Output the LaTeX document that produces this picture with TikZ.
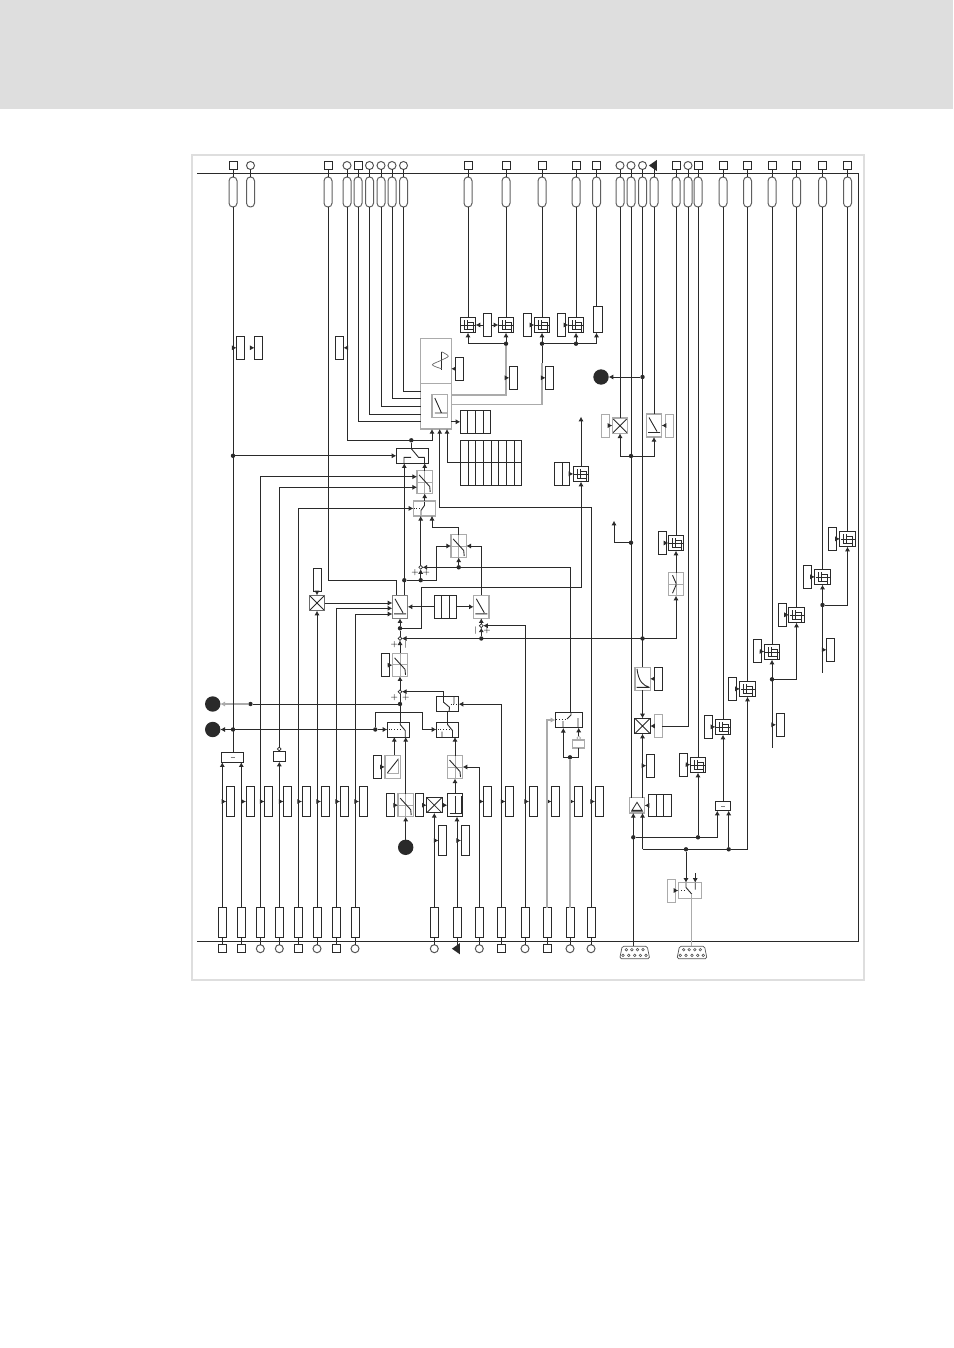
\documentclass[tikz,border=0pt]{standalone}
\usetikzlibrary{arrows.meta,shapes.geometric}

\definecolor{ink}{HTML}{2A2A2A}
\definecolor{boxgray}{HTML}{ABABAB}
\definecolor{framegray}{HTML}{DEDEDE}

\tikzset{
  sq/.style={draw,minimum size=4pt},
  cir/.style={draw=ink!80,circle,minimum size=4pt},
  trm/.style={fill=ink,isosceles triangle,isosceles triangle apex angle=70,shape border rotate=180,minimum height=4pt,minimum width=4pt},
  pill/.style={draw=ink!75,rounded corners=1.9pt,minimum width=4pt,minimum height=15pt},
  iorect/.style={draw,minimum width=4pt,minimum height=15pt},
  coderect/.style={draw,minimum width=4pt,minimum height=11.5pt},
  graycode/.style={coderect,draw=boxgray,line width=0.7pt},
  dot/.style={fill=ink,circle,minimum size=2.2pt},
  bigdot/.style={fill=ink,circle,minimum size=7.7pt},
  sumdot/.style={draw,fill=white,circle,minimum size=1.9pt,line width=0.35pt},
  sgn/.style={font=\fontsize{3.8}{4.5}\selectfont},
  graywire/.style={draw=boxgray,line width=0.7pt},
  funcbox/.style={draw,minimum size=7.7pt},
  tallbox/.style={draw=boxgray,line width=0.7pt,minimum width=7.7pt,minimum height=11.5pt},
  switchbox/.style={draw,minimum width=11.2pt,minimum height=7.5pt},
  fbk/.style={funcbox,path picture={
    \draw[draw=ink,line width=0.4pt,shift={(path picture bounding box.center)}]
      (-4,-5) -- (-4,4) -- (5,4) (-7,0) -- (7,0) (-1,-5) -- (-1,4) (-1,-3) -- (5,-3) -- (5,7);}},
  xbx/.style={funcbox,path picture={
    \draw[draw=ink,line width=0.4pt] (path picture bounding box.south west) -- (path picture bounding box.north east)
      (path picture bounding box.north west) -- (path picture bounding box.south east);}},
  scv/.style={tallbox,path picture={
    \draw[draw=boxgray,line width=0.4pt,shift={(path picture bounding box.center)}] (0,-12) -- (0,12) (-7,0) -- (7,0);
    \draw[draw=ink,line width=0.45pt,shift={(path picture bounding box.center)}] (-5.5,-7) -- (5,4.5) -- (5.5,10);}},
  rmp/.style={tallbox,path picture={
    \draw[draw=ink,line width=0.45pt,shift={(path picture bounding box.center)}] (-5,-8) -- (3,6) (-6,7) -- (6,7);}},
  rup/.style={tallbox,path picture={
    \draw[draw=ink,line width=0.45pt,shift={(path picture bounding box.center)}] (-5,6) -- (6,-8);
    \draw[draw=boxgray,line width=0.4pt,shift={(path picture bounding box.center)}] (6,-8) -- (6,7) -- (-5,7) -- (-5,6);}},
  lbx/.style={draw,minimum width=7.7pt,minimum height=11.5pt,path picture={
    \draw[draw=ink,line width=0.45pt,shift={(path picture bounding box.center)}] (0,-9) -- (0,8.3) (-5.5,8.3) -- (6.5,8.3) (6,8.3) -- (6,-9);}},
  crv/.style={tallbox,path picture={
    \draw[draw=ink,line width=0.45pt,shift={(path picture bounding box.center)}] (-5.5,-10) .. controls (-4,4) and (2,7) .. (6,8) (-6,8.5) -- (7,8.5);}},
  yyy/.style={tallbox,path picture={
    \draw[draw=boxgray,line width=0.4pt,shift={(path picture bounding box.center)}] (0,-12) -- (0,12) (-7,0) -- (7,0);
    \draw[draw=ink,line width=0.45pt,shift={(path picture bounding box.center)}] (-3.5,-9) -- (0,-1) -- (0,1) -- (-3.5,9);}},
  trb/.style={funcbox,draw=boxgray,line width=0.7pt,path picture={
    \draw[draw=ink,line width=0.4pt,shift={(path picture bounding box.center)}] (-5,5) -- (0,-3) -- (5,5) -- cycle (-6,6) -- (6,6);}},
  cols2/.style={draw,path picture={\draw[draw=ink,shift={(path picture bounding box.center)}] (0,-20) -- (0,20);}},
  cols3/.style={draw,path picture={\draw[draw=ink,shift={(path picture bounding box.center)}] (-3.8,-20) -- (-3.8,20) (3.8,-20) -- (3.8,20);}},
  cols4/.style={draw,path picture={\draw[draw=ink,shift={(path picture bounding box.center)}] (-7.6,-20) -- (-7.6,20) (0,-20) -- (0,20) (7.6,-20) -- (7.6,20);}},
  cols8/.style={draw,path picture={\draw[draw=ink,shift={(path picture bounding box.center)}]
    (-23,-30) -- (-23,30) (-15.4,-30) -- (-15.4,30) (-7.7,-30) -- (-7.7,30) (0,-30) -- (0,30)
    (7.7,-30) -- (7.7,30) (15.4,-30) -- (15.4,30) (23,-30) -- (23,30) (-35,0) -- (35,0);}},
  dsub/.style={minimum width=15.6pt,minimum height=6.9pt,path picture={
    \draw[draw=ink!80,line width=0.35pt,rounded corners=0.8pt,shift={(path picture bounding box.center)}]
      (-12.5,-6.5) -- (12.5,-6.5) -- (15,6) -- (-15,6) -- cycle;
    \draw[draw=ink!80,line width=0.3pt,shift={(path picture bounding box.center)}]
      (-8.3,-3) circle (1.3) (-2.8,-3) circle (1.3) (2.8,-3) circle (1.3) (8.3,-3) circle (1.3)
      (-11.7,2.7) circle (1.3) (-6,2.7) circle (1.3) (0,2.7) circle (1.3) (5.7,2.7) circle (1.3) (11.3,2.7) circle (1.3);}},
}

\begin{document}
\begin{tikzpicture}[x=0.5pt,y=-0.5pt,line width=0.5pt,draw=ink,inner sep=0pt,outer sep=0pt,>={Latex[length=2.3pt,width=2.6pt]}]
        \useasboundingbox (0,0) rectangle (953,1348);

        % === PAGE HEADER AND FRAME ===
        \fill[framegray] (0,0) rectangle (953,109);
        \draw[draw=framegray,line width=1pt] (192,155) rectangle (864,980);

        % === BUS ===
        \draw (197,173.5) -- (858.5,173.5) -- (858.5,941.3) -- (197,941.3);

        % === TOP TERMINALS ===
        \node[sq] (tt1) at (233,165.5) {}; \node[pill] (pt1) at (233,192) {}; \draw (tt1) -- (pt1);
        \node[cir] (tt2) at (250.5,165.5) {}; \node[pill] (pt2) at (250.5,192) {}; \draw (tt2) -- (pt2);
        \node[sq] (tt3) at (328,165.5) {}; \node[pill] (pt3) at (328,192) {}; \draw (tt3) -- (pt3);
        \node[cir] (tt4) at (347,165.5) {}; \node[pill] (pt4) at (347,192) {}; \draw (tt4) -- (pt4);
        \node[sq] (tt5) at (358,165.5) {}; \node[pill] (pt5) at (358,192) {}; \draw (tt5) -- (pt5);
        \node[cir] (tt6) at (369.5,165.5) {}; \node[pill] (pt6) at (369.5,192) {}; \draw (tt6) -- (pt6);
        \node[cir] (tt7) at (381,165.5) {}; \node[pill] (pt7) at (381,192) {}; \draw (tt7) -- (pt7);
        \node[cir] (tt8) at (392,165.5) {}; \node[pill] (pt8) at (392,192) {}; \draw (tt8) -- (pt8);
        \node[cir] (tt9) at (403.5,165.5) {}; \node[pill] (pt9) at (403.5,192) {}; \draw (tt9) -- (pt9);
        \node[sq] (tt10) at (468,165.5) {}; \node[pill] (pt10) at (468,192) {}; \draw (tt10) -- (pt10);
        \node[sq] (tt11) at (506,165.5) {}; \node[pill] (pt11) at (506,192) {}; \draw (tt11) -- (pt11);
        \node[sq] (tt12) at (542,165.5) {}; \node[pill] (pt12) at (542,192) {}; \draw (tt12) -- (pt12);
        \node[sq] (tt13) at (576,165.5) {}; \node[pill] (pt13) at (576,192) {}; \draw (tt13) -- (pt13);
        \node[sq] (tt14) at (596.5,165.5) {}; \node[pill] (pt14) at (596.5,192) {}; \draw (tt14) -- (pt14);
        \node[cir] (tt15) at (620,165.5) {}; \node[pill] (pt15) at (620,192) {}; \draw (tt15) -- (pt15);
        \node[cir] (tt16) at (631,165.5) {}; \node[pill] (pt16) at (631,192) {}; \draw (tt16) -- (pt16);
        \node[cir] (tt17) at (642.5,165.5) {}; \node[pill] (pt17) at (642.5,192) {}; \draw (tt17) -- (pt17);
        \node[trm] (tt18) at (654,165.5) {}; \node[pill] (pt18) at (654,192) {}; \draw (tt18) -- (pt18);
        \node[sq] (tt19) at (676,165.5) {}; \node[pill] (pt19) at (676,192) {}; \draw (tt19) -- (pt19);
        \node[cir] (tt20) at (688,165.5) {}; \node[pill] (pt20) at (688,192) {}; \draw (tt20) -- (pt20);
        \node[sq] (tt21) at (698,165.5) {}; \node[pill] (pt21) at (698,192) {}; \draw (tt21) -- (pt21);
        \node[sq] (tt22) at (723,165.5) {}; \node[pill] (pt22) at (723,192) {}; \draw (tt22) -- (pt22);
        \node[sq] (tt23) at (747.5,165.5) {}; \node[pill] (pt23) at (747.5,192) {}; \draw (tt23) -- (pt23);
        \node[sq] (tt24) at (772,165.5) {}; \node[pill] (pt24) at (772,192) {}; \draw (tt24) -- (pt24);
        \node[sq] (tt25) at (796.5,165.5) {}; \node[pill] (pt25) at (796.5,192) {}; \draw (tt25) -- (pt25);
        \node[sq] (tt26) at (822.5,165.5) {}; \node[pill] (pt26) at (822.5,192) {}; \draw (tt26) -- (pt26);
        \node[sq] (tt27) at (847.5,165.5) {}; \node[pill] (pt27) at (847.5,192) {}; \draw (tt27) -- (pt27);

        % === BOTTOM TERMINALS ===
        \node[iorect] (br1) at (222.3,922.5) {}; \node[sq] (bt1) at (222.3,948.7) {}; \draw (br1) -- (bt1);
        \node[iorect] (br2) at (241.3,922.5) {}; \node[sq] (bt2) at (241.3,948.7) {}; \draw (br2) -- (bt2);
        \node[iorect] (br3) at (260.3,922.5) {}; \node[cir] (bt3) at (260.3,948.7) {}; \draw (br3) -- (bt3);
        \node[iorect] (br4) at (279.3,922.5) {}; \node[cir] (bt4) at (279.3,948.7) {}; \draw (br4) -- (bt4);
        \node[iorect] (br5) at (298.3,922.5) {}; \node[sq] (bt5) at (298.3,948.7) {}; \draw (br5) -- (bt5);
        \node[iorect] (br6) at (317,922.5) {}; \node[cir] (bt6) at (317,948.7) {}; \draw (br6) -- (bt6);
        \node[iorect] (br7) at (336,922.5) {}; \node[sq] (bt7) at (336,948.7) {}; \draw (br7) -- (bt7);
        \node[iorect] (br8) at (355,922.5) {}; \node[cir] (bt8) at (355,948.7) {}; \draw (br8) -- (bt8);
        \node[iorect] (br9) at (434.3,922.5) {}; \node[cir] (bt9) at (434.3,948.7) {}; \draw (br9) -- (bt9);
        \node[iorect] (br10) at (457,922.5) {}; \node[trm] (bt10) at (457,948.7) {}; \draw (br10) -- (bt10);
        \node[iorect] (br11) at (479.3,922.5) {}; \node[cir] (bt11) at (479.3,948.7) {}; \draw (br11) -- (bt11);
        \node[iorect] (br12) at (501.5,922.5) {}; \node[sq] (bt12) at (501.5,948.7) {}; \draw (br12) -- (bt12);
        \node[iorect] (br13) at (525,922.5) {}; \node[cir] (bt13) at (525,948.7) {}; \draw (br13) -- (bt13);
        \node[iorect] (br14) at (547,922.5) {}; \node[sq] (bt14) at (547,948.7) {}; \draw (br14) -- (bt14);
        \node[iorect] (br15) at (570,922.5) {}; \node[cir] (bt15) at (570,948.7) {}; \draw (br15) -- (bt15);
        \node[iorect] (br16) at (591,922.5) {}; \node[cir] (bt16) at (591,948.7) {}; \draw (br16) -- (bt16);
        \node[dsub] (cn1) at (634.7,952.7) {};
        \node[dsub] (cn2) at (692,952.7) {};

        % === MAIN CONTROLLER BOXES ===
        \node[tallbox,minimum width=15.3pt,minimum height=22.5pt,path picture={
            \draw[draw=ink,line width=0.4pt,shift={(path picture bounding box.center)}] (5.7,-9) -- (5.7,9);
            \draw[draw=ink!70,line width=0.35pt,shift={(path picture bounding box.center)}] plot[smooth] coordinates {(5.7,8) (-3.7,4) (5.7,-0.7) (12.3,-4.7) (5.7,-9)};}] (wv1) at (436,360.8) {};
        \node[tallbox,minimum width=15.3pt,minimum height=22.85pt] (ra1) at (436,406.2) {};
        \node[tallbox,path picture={
            \draw[draw=ink,line width=0.45pt,shift={(path picture bounding box.center)}] (-5,-8) -- (1.7,7) (-5,7) -- (7,7);}] (ri1) at (439.8,406) {};
        \node[cols4,minimum width=15.2pt,minimum height=11.5pt] (tb1) at (475.5,421.8) {};
        \node[cols8,minimum width=30.7pt,minimum height=22.4pt] (tb2) at (491,462.7) {};
        \coordinate (k1) at (420.7,391); \draw (pt9) |- (k1);
        \coordinate (k2) at (420.7,398.3); \draw (pt8) |- (k2);
        \coordinate (k3) at (420.7,406.3); \draw (pt7) |- (k3);
        \coordinate (k4) at (420.7,414.3); \draw (pt6) |- (k4);
        \coordinate (k5) at (420.7,421.3); \draw (pt5) |- (k5);
        \coordinate (k6) at (432,440.3); \draw[->] (pt4) |- (k6) -- (k6 |- ra1.south);
        \coordinate (k7) at (439.7,507.3); \draw[->] (br16) |- (k7) -- (k7 |- ra1.south);
        \coordinate (k8) at (447,429); \draw[->] (tb2.west) -| (k8);
        \draw[->] (ra1.east |- tb1) -- (tb1.west);

        % === CODE BOXES AT TOP ===
        \node[coderect] (rc1) at (240.5,347.8) {}; \draw[->] (rc1.west -| pt1) -- (rc1.west);
        \node[coderect] (rc2) at (258.5,347.8) {}; \draw[->] (rc2.west -| pt2) -- (rc2.west);
        \node[coderect] (rc3) at (339.5,347.8) {}; \draw[->] (rc3.east -| pt4) -- (rc3.east);
        \node[coderect] (rg0) at (459.5,368.8) {}; \draw[->] (rg0) -- (wv1.east |- rg0);
        \node[coderect] (rg1) at (513.3,377.8) {};
        \node[coderect] (rg2) at (549.5,377.8) {};

        % === FUNCTION BLOCKS TOP ROW ===
        \node[fbk] (fb1) at (468,325) {}; \draw (pt10) -- (fb1.north);
        \node[fbk] (fb2) at (506,325) {}; \draw (pt11) -- (fb2.north);
        \node[fbk] (fb3) at (542,325) {}; \draw (pt12) -- (fb3.north);
        \node[fbk] (fb4) at (576,325) {}; \draw (pt13) -- (fb4.north);
        \node[coderect,minimum height=11.7pt] (rb1) at (487,325) {}; \draw[->] (rb1) -- (fb1); \draw[->] (rb1) -- (fb2);
        \node[coderect,minimum height=11.7pt] (rb2) at (527,325) {}; \draw[->] (rb2) -- (fb3);
        \node[coderect,minimum height=11.7pt] (rb3) at (561,325) {}; \draw[->] (rb3) -- (fb4);
        \node[draw,minimum width=4.7pt,minimum height=13.2pt] (rp1) at (598,319.5) {}; \draw (pt14) -- (pt14 |- rp1.north);
        \node[dot] (j12) at (506,343.7) {}; \node[dot] (j13) at (542,343.7) {}; \node[dot] (j14) at (576,343.7) {};
        \draw[->] (j12) -| (fb1.south); \draw[->] (j12) -- (fb2.south);
        \draw (j13) -- (j14); \draw[->] (j13) -- (fb3.south); \draw[->] (j14) -- (fb4.south);
        \draw[->] (j14) -| (pt14 |- rp1.south);
        \coordinate (k14) at (542,363); \draw (j13) -- (k14);
        \draw[graywire] (j12) |- (ra1.east |- 0,395);
        \draw[graywire] (k14) |- (ra1.east |- 0,404.3);
        \draw[->] (rg1.west -| j12) -- (rg1.west);
        \draw[->] (rg2.west -| j13) -- (rg2.west);

        % === SWITCH AND GAIN CHAIN ===
        \node[switchbox,minimum width=16.2pt,path picture={
            \draw[draw=ink,line width=0.45pt,shift={(path picture bounding box.center)}] (-1.5,-7.5) -- (6,1.5) -- (12,1.5) (-8.5,7.5) -- (-8.5,1.5) -- (-1.5,1.5) (12,1.5) -- (12,7.5);}] (sw1) at (412.5,455.8) {};
        \node[switchbox,draw=boxgray,line width=0.7pt,path picture={
            \draw[draw=ink,line width=0.45pt,shift={(path picture bounding box.center)}] (0,-7.5) -- (0,-3) -- (-3.5,2) -- (-3.5,7.5);
            \draw[draw=ink,line width=0.45pt,densely dotted,shift={(path picture bounding box.center)}] (-11,0) -- (-3,0);}] (sw2) at (424.5,508.4) {};
        \node[switchbox,minimum width=13.7pt,minimum height=7.7pt,path picture={
            \draw[draw=ink,line width=0.45pt,shift={(path picture bounding box.center)}] (-2,-1) -- (2,-5) -- (2,-8) (9,-2) -- (9,8) (-6,1) -- (-6,8);
            \draw[draw=ink,line width=0.45pt,densely dotted,shift={(path picture bounding box.center)}] (-13,-1) -- (-2,-1);}] (sw6) at (569,720) {};
        \node[scv] (sc1) at (424.7,482) {};
        \node[scv] (sc2) at (458.7,546) {};
        \node[rmp,draw=ink!60] (gn1) at (400,606.8) {};
        \node[rmp] (rp2) at (481.3,606.8) {};
        \node[cols3,minimum width=11.2pt,minimum height=11.5pt] (tb3) at (445.5,606.8) {};
        \node[xbx,draw=ink!70] (xb1) at (317,603) {};
        \node[coderect] (cr1) at (317,580) {};
        \node[dot] (j1) at (233,455.8) {};
        \node[dot] (j2) at (404.3,580.2) {};
        \node[dot] (j3) at (420.7,580.2) {};
        \node[dot] (j4) at (411.3,440.3) {};
        \node[dot] (j5) at (481.3,638.5) {};
        \node[dot] (j6) at (400,628.3) {};
        \node[dot] (j7) at (642.5,638.5) {};
        \node[dot] (j9) at (458.7,567.3) {};
        \node[sumdot] (sd1) at (420.7,567.3) {};
        \node[sumdot] (sd2) at (481.3,625.7) {};
        \node[sumdot] (sd3) at (400,638.5) {};
        \node[sgn] (m1) at (415,573) {+}; \node[sgn] (m2) at (426.3,573) {+};
        \node[sgn] (m3) at (475.7,631) {|}; \node[sgn] (m4) at (487,631) {+};
        \node[sgn] (m5) at (394.3,644.5) {+}; \node[sgn] (m6) at (405.7,644.5) {|};
        \draw[->] (j1) -- (sw1.west);
        \draw (j4) -- (j4 |- sw1.north);
        \draw[->] (gn1.north -| j2) -- (j2 |- sw1.south);
        \draw[->] (sc1.north) -- (sc1.north |- sw1.south);
        \draw[->] (sw2.north -| sc1) -- (sc1.south);
        \draw[->] (br3) |- (sc1.west |- 0,476.7);
        \node[draw,minimum width=5.7pt,minimum height=5.2pt] (sm1) at (279.3,756.5) {};
        \node[sumdot] (smc) at (279.3,749) {};
        \draw[->] (br4) -- (sm1);
        \draw[->] (smc) |- (sc1.west |- 0,487.3);
        \draw[->] (br5) |- (sw2.west);
        \draw (j2) -- (j3);
        \coordinate (k9) at (436.7,580.2); \draw[->] (j3) -- (k9) |- (sc2.west);
        \draw[->] (j3) -- (sd1);
        \draw[->] (sd1) -- (sd1 |- sw2.south);
        \coordinate (k10) at (432,527.7); \draw[->] (sc2.north) |- (k10) -- (k10 |- sw2.south);
        \draw[->] (rp2.north) |- (sc2.east);
        \draw[->] (j9) -- (sc2.south);
        \draw[->] (sw6.north -| 570.7,0) |- (sd1);
        \coordinate (k11) at (396.7,580.3); \draw (pt3) |- (k11) -- (k11 |- gn1.north);
        \draw[->] (cr1) -- (xb1);
        \draw[->] (xb1.east) -- (gn1.west |- xb1.east);
        \draw[->] (br6) -- (xb1);
        \draw[->] (br7) |- (gn1.west |- 0,608.3);
        \draw[->] (br8) |- (gn1.west |- 0,614);
        \draw[->] (tb3.west) -- (gn1.east);
        \draw[->] (tb3.east) -- (rp2.west);
        \draw[->] (sd2) -- (rp2.south);
        \draw[->] (j5) -- (sd2);
        \draw[->] (br13) |- (sd2);
        \draw[->] (j6) -- (gn1.south);
        \draw (sd3) -- (j6);

        % === LOWER SWITCHES ===
        \node[scv] (sc3) at (400,664.8) {};
        \node[coderect] (rs3) at (385.5,665.3) {}; \draw[->] (rs3) -- (sc3);
        \node[sumdot] (sd5) at (400,691.7) {};
        \node[dot] (j8) at (400,704) {};
        \node[dot] (jb) at (250.5,704) {};
        \node[sgn] (m7) at (394.3,697.5) {+}; \node[sgn] (m8) at (405.7,697.5) {+};
        \node[bigdot] (cc1) at (212.7,704) {};
        \node[bigdot] (cc2) at (212.7,729.5) {};
        \node[bigdot] (cc3) at (405.7,847.3) {};
        \node[bigdot] (cc4) at (601,377) {};
        \node[dot] (j10) at (233,729.5) {};
        \node[dot] (j11) at (375.3,729.5) {};
        \node[switchbox,path picture={
            \draw[draw=ink,line width=0.45pt,shift={(path picture bounding box.center)}] (1.7,-8) -- (1.7,-5) -- (6.7,1) -- (6.7,8);
            \draw[draw=ink,line width=0.45pt,densely dotted,shift={(path picture bounding box.center)}] (-10,-0.5) -- (2,-0.5);}] (sw3) at (398.5,729.5) {};
        \node[switchbox,path picture={
            \draw[draw=ink,line width=0.45pt,shift={(path picture bounding box.center)}] (0,-8) -- (0,-5) -- (5,1) -- (5,8) (-5.5,2) -- (-5.5,10);
            \draw[draw=ink,line width=0.45pt,densely dotted,shift={(path picture bounding box.center)}] (-10,-0.5) -- (2,-0.5);}] (sw4) at (447.5,729.5) {};
        \node[switchbox,path picture={
            \draw[draw=ink,line width=0.45pt,shift={(path picture bounding box.center)}] (-4,-8) -- (-4,-2) -- (2,3) -- (1.5,8) (6.5,-9) -- (6.5,0);
            \draw[draw=ink,line width=0.45pt,densely dotted,shift={(path picture bounding box.center)}] (3,0) -- (11,0);}] (sw5) at (447.5,704.2) {};
        \draw[->] (sc3) -- (sd3);
        \draw[->] (sd5) -- (sc3);
        \draw (j8) -- (sd5);
        \draw (jb) -- (j8);
        \draw[graywire,->] (jb) -- (cc1);
        \draw (j8) -- (j8 |- sw3.north);
        \draw[->] (sw5.north -| 443.3,0) |- (sd5);
        \draw[->] (j10) -- (cc2);
        \draw (j10) -- (j11);
        \draw[->] (j11) -- (sw3.west);
        \draw[->] (j11) |- (422.3,712.7) |- (sw4.west);
        \draw (sw4.north) -- (sw5.south);
        \draw[->] (br12) |- (sw5.east);

        % === LOWER GAIN ROW ===
        \node[rup] (ru1) at (392.5,766.8) {};
        \node[coderect] (rs4) at (377.5,767) {}; \draw[->] (rs4) -- (ru1);
        \node[scv] (sc4) at (405.7,805.2) {};
        \node[scv] (sc5) at (455,767) {};
        \node[lbx] (lb1) at (455,805.2) {};
        \node[xbx] (xb2) at (434.3,805.2) {};
        \node[coderect] (rs5) at (390.5,805.2) {}; \draw[->] (rs5) -- (sc4);
        \node[coderect] (rs6) at (419,805.2) {}; \draw[->] (rs6) -- (xb2);
        \node[iorect] (rs7) at (442.5,840.5) {}; \draw[->] (rs7.west -| br9) -- (rs7.west);
        \node[iorect] (rs8) at (465,840.5) {}; \draw[->] (rs8.west -| br10) -- (rs8.west);
        \draw[->] (xb2) -- (lb1);
        \draw[->] (br9) -- (xb2);
        \draw[->] (br10) -- (br10 |- lb1.south);
        \draw[->] (br11) |- (sc5.east);
        \draw[->] (lb1) -- (sc5);
        \draw[->] (sc5.north) -- (sc5.north |- sw4.south);
        \draw[->] (sc4.north) -- (sc4.north |- sw3.south);
        \draw[->] (ru1.north -| 394.3,0) -- (sw3.south -| 394.3,0);
        \draw[->] (cc3) -- (sc4.south);

        % === INPUT CONVERTER LEFT ===
        \node[draw,minimum width=11.2pt,minimum height=5pt,path picture={
            \draw[draw=ink!60,line width=0.3pt,shift={(path picture bounding box.center)}] (-2,0) -- (2,0);}] (ad1) at (232.5,757.3) {};
        \draw (pt1) -- (ad1.north -| pt1);
        \draw[->] (br1) -- (br1 |- ad1.south);
        \draw[->] (br2) -- (br2 |- ad1.south);

        % === MID ROW CODE BOXES ===
        \node[iorect] (mr1) at (230.3,801.5) {}; \draw[->] (mr1.west -| br1) -- (mr1.west);
        \node[iorect] (mr2) at (250,801.5) {}; \draw[->] (mr2.west -| br2) -- (mr2.west);
        \node[iorect] (mr3) at (268.5,801.5) {}; \draw[->] (mr3.west -| br3) -- (mr3.west);
        \node[iorect] (mr4) at (287.5,801.5) {}; \draw[->] (mr4.west -| br4) -- (mr4.west);
        \node[iorect] (mr5) at (306,801.5) {}; \draw[->] (mr5.west -| br5) -- (mr5.west);
        \node[iorect] (mr6) at (325,801.5) {}; \draw[->] (mr6.west -| br6) -- (mr6.west);
        \node[iorect] (mr7) at (344,801.5) {}; \draw[->] (mr7.west -| br7) -- (mr7.west);
        \node[iorect] (mr8) at (363,801.5) {}; \draw[->] (mr8.west -| br8) -- (mr8.west);
        \node[iorect] (mr9) at (487.7,801.5) {}; \draw[->] (mr9.west -| br11) -- (mr9.west);
        \node[iorect] (mr10) at (509.5,801.5) {}; \draw[->] (mr10.west -| br12) -- (mr10.west);
        \node[iorect] (mr11) at (533,801.5) {}; \draw[->] (mr11.west -| br13) -- (mr11.west);
        \node[iorect] (mr12) at (555.5,801.5) {}; \draw[->] (mr12.west -| br14) -- (mr12.west);
        \node[iorect] (mr13) at (578.5,801.5) {}; \draw[->] (mr13.west -| br15) -- (mr13.west);
        \node[iorect] (mr14) at (599,801.5) {}; \draw[->] (mr14.west -| br16) -- (mr14.west);

        % === SWITCH NEAR BOTTOM CENTRE ===
        \node[draw=boxgray,line width=0.7pt,minimum width=6pt,minimum height=4pt] (gb1) at (578.7,744) {};
        \node[sumdot,draw=boxgray] (gbc) at (578.7,738) {};
        \node[dot] (j24) at (570,757.3) {};
        \coordinate (k16) at (563.3,727.9);
        \draw[->] (gbc) -- (gbc |- sw6.south);
        \draw (j24) -| (gb1.south);
        \draw[->] (j24) -| (k16);
        \draw[graywire] (br15) -- (j24);
        \draw[graywire,->] (br14) |- (sw6.west);

        % === RIGHT SIDE TOP ===
        \node[xbx,draw=boxgray,line width=0.7pt] (xb3) at (620,425.7) {};
        \node[rmp] (rs1) at (654,425.5) {};
        \node[graycode,line width=0.5pt] (rg3) at (605,425.5) {}; \draw[->] (rg3) -- (xb3);
        \node[graycode,line width=0.5pt] (rg4) at (669,425.5) {}; \draw[->] (rg4) -- (rs1);
        \node[dot] (j15) at (631,456) {};
        \node[dot] (j16) at (631,542.7) {};
        \node[dot] (j17) at (642.5,377) {};
        \coordinate (fr2) at (614,520.7);
        \draw (pt15) -- (xb3.north);
        \draw (pt18) -- (rs1.north);
        \draw[->] (j15) -| (xb3.south);
        \draw[->] (j15) -| (rs1.south);
        \draw[->] (j16) -| (fr2);
        \draw[->] (j17) -- (cc4);

        % === FUNCTION BLOCK WITH TWO COLUMN TABLE ===
        \node[fbk] (fb5) at (581,474) {};
        \node[cols2,minimum width=7.7pt,minimum height=11.5pt] (tb5) at (562,473.8) {};
        \coordinate (fr1) at (581,416.7);
        \draw[->] (tb5) -- (fb5);
        \draw[->] (fb5.north) -- (fr1);
        \coordinate (k12) at (421.3,628.3); \coordinate (k13) at (581,587.3);
        \draw[->] (j6) -- (k12) |- (k13) -- (fb5.south);

        % === RIGHT COLUMN ===
        \node[fbk] (fb6) at (676,543) {};
        \node[yyy] (yb1) at (676,584.2) {};
        \node[coderect] (rb6) at (662,543) {}; \draw[->] (rb6) -- (fb6);
        \draw (pt19) -- (fb6.north);
        \draw[->] (yb1.north) -- (fb6.south);
        \coordinate (k15) at (676,638.5);
        \draw[->] (k15) -- (sd3);
        \draw[->] (k15) -- (yb1.south);
        \node[crv] (cv1) at (642.5,678.8) {};
        \node[xbx] (xb4) at (642.5,726) {};
        \node[trb] (tr1) at (637,805.3) {};
        \node[coderect] (rb7) at (658.5,678.8) {}; \draw[->] (rb7) -- (cv1);
        \node[graycode] (rg5) at (658.3,726) {}; \draw[->] (rg5) -- (xb4);
        \node[coderect] (rb8) at (650.3,765.7) {}; \draw[->] (rb8.west -| cv1) -- (rb8.west);
        \node[cols3,minimum width=11.7pt,minimum height=11.2pt] (tb4) at (660,805.5) {}; \draw[->] (tb4) -- (tr1);
        \draw (pt20) |- (rg5.east);
        \draw (pt16) -- (pt16 |- tr1.north);
        \draw (pt17) -- (cv1.north);
        \draw[->] (cv1.south) -- (xb4.north);
        \coordinate (k17) at (642.5,849.3);
        \draw[->] (k17) -- (k17 |- tr1.south);
        \draw[->] (k17 |- tr1.north) -- (xb4.south);
        \draw[->] (cn1.north -| 633.3,0) -- (tr1.south -| 633.3,0);
        \node[dot] (j18) at (633.3,837.3) {};
        \node[dot] (j19) at (698,837.3) {};
        \node[dot] (j20) at (686,849.3) {};
        \node[dot] (j21) at (728.7,849.3) {};
        \node[draw,minimum width=7.7pt,minimum height=4.7pt,path picture={
            \draw[draw=ink!60,line width=0.3pt,shift={(path picture bounding box.center)}] (-2,0) -- (2,0);}] (ad2) at (723,806) {};
        \node[fbk] (fb7) at (698,765) {};
        \node[fbk] (fb8) at (723,727) {};
        \node[fbk] (fb9) at (747.5,689) {};
        \node[fbk] (fb10) at (772,652) {};
        \node[fbk] (fb11) at (796.5,615) {};
        \node[fbk] (fb12) at (822.5,577) {};
        \node[fbk] (fb13) at (847.5,539) {};
        \node[coderect] (rb9) at (683.5,764.5) {}; \draw[->] (rb9) -- (fb7);
        \node[coderect] (rb10) at (708,726.8) {}; \draw[->] (rb10) -- (fb8);
        \node[coderect] (rb11) at (732.5,688.8) {}; \draw[->] (rb11) -- (fb9);
        \node[coderect] (rb12) at (757.5,651.3) {}; \draw[->] (rb12) -- (fb10);
        \node[coderect] (rb13) at (782,614.8) {}; \draw[->] (rb13) -- (fb11);
        \node[coderect] (rb14) at (807.5,576.8) {}; \draw[->] (rb14) -- (fb12);
        \node[coderect] (rb15) at (832,538.8) {}; \draw[->] (rb15) -- (fb13);
        \node[coderect] (rb16) at (780,724.8) {}; \draw[->] (rb16.west -| fb10) -- (rb16.west);
        \node[coderect] (rb17) at (830.5,649.8) {}; \draw[->] (rb17.west -| fb12) -- (rb17.west);
        \draw (pt21) -- (fb7.north);
        \draw (pt22) -- (fb8.north);
        \draw (pt23) -- (fb9.north);
        \draw (pt24) -- (fb10.north);
        \draw (pt25) -- (fb11.north);
        \draw (pt26) -- (fb12.north);
        \draw (pt27) -- (fb13.north);
        \draw (j18) -- (j19);
        \draw[->] (j19) -- (fb7.south);
        \draw[->] (j19) -| (717.3,810.7);
        \draw[->] (j21) -- (j21 |- ad2.south);
        \draw (k17) -- (j20) -- (j21);
        \draw[->] (j21) -| (fb9.south);
        \draw[->] (ad2.north) -- (fb8.south);
        \coordinate (fr4) at (772,747.7);
        \coordinate (fr5) at (822.5,672.7);
        \node[dot] (j22) at (772,679.3) {};
        \node[dot] (j23) at (822.5,605) {};
        \draw[->] (fr4) -- (fb10.south);
        \draw[->] (fr5) -- (fb12.south);
        \draw[->] (j22) -| (fb11.south);
        \draw[->] (j23) -| (fb13.south);

        % === BOTTOM RIGHT SWITCH ===
        \node[switchbox,draw=boxgray,minimum width=11.7pt,minimum height=7.8pt,path picture={
            \draw[draw=ink,line width=0.45pt,shift={(path picture bounding box.center)}] (-4,-8) -- (-4,-3) -- (1.7,3.5) (5.2,-8) -- (5.2,-1);
            \draw[draw=boxgray,line width=0.6pt,shift={(path picture bounding box.center)}] (1.7,3.5) -- (1.7,8);
            \draw[draw=ink,line width=0.45pt,densely dotted,shift={(path picture bounding box.center)}] (-12,-0.5) -- (-3.5,-0.5);}] (sw7) at (690,890.5) {};
        \node[graycode,line width=0.5pt] (rg6) at (671,890.5) {}; \draw[->] (rg6) -- (sw7);
        \coordinate (fr3) at (695.2,873);
        \draw[->] (fr3) -- (fr3 |- sw7.north);
        \draw[->] (j20) -- (j20 |- sw7.north);
        \draw[graywire] (sw7.south -| 691.7,0) -- (cn2.north -| 691.7,0);

    \end{tikzpicture}
\end{document}
